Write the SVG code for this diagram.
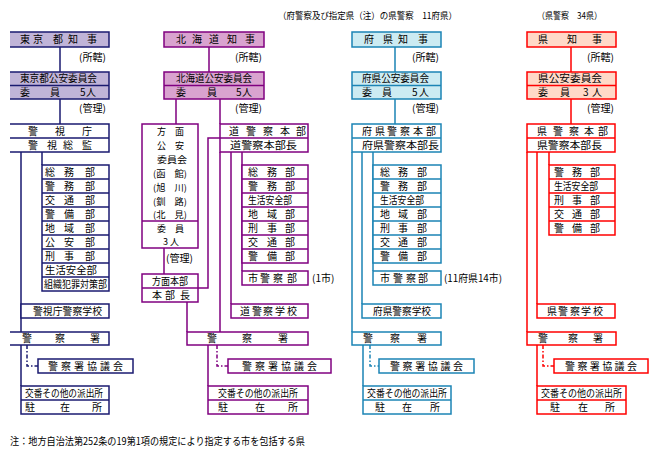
<svg xmlns="http://www.w3.org/2000/svg" width="659" height="456" viewBox="0 0 659 456">
<style>
text{font-family:"Noto Sans CJK JP","Noto Sans CJK SC",sans-serif;font-size:10px;fill:#000}
.s{font-size:9px}
.k,.h,.f,.r{stroke-width:1.5;fill:#fff}
.k{stroke:#1A1A70}.h{stroke:#800080}.f{stroke:#1B84B5}.r{stroke:#FF0000}
.kf{fill:#C0B4D8}.hf{fill:#D9A3CF}.ff{fill:#CCEBF2}.rf{fill:#FFD9C8}
.n{fill:none}
.d{stroke-dasharray:4 2 1.5 2}
</style>
<rect width="659" height="456" fill="#fff"/>
<text class="s" x="278" y="18.5" textLength="179" lengthAdjust="spacingAndGlyphs">（府警察及び指定県（注）の県警察　11府県）</text>
<text class="s" x="537" y="18.5" textLength="65" lengthAdjust="spacingAndGlyphs">（県警察　34県）</text>

<g id="connectors" fill="none">
<path class="k n" d="M60,47V72M60,99V124M21,152V332M42,152V165M21,345V386"/>
<path class="k n d" d="M27,345V366H38"/>
<path class="h n" d="M209,47V72M176,99V124M220,99V124M164,248V274M187,302V332M198,288H208V138H220M220,152V332M231,152V304M242,152V271M208,345V386"/>
<path class="h n d" d="M217,345V366H228"/>
<path class="f n" d="M395,47V72M395,99V124M352,152V332M362,152V304M373,152V271M363,345V386"/>
<path class="f n d" d="M370,345V366H379"/>
<path class="r n" d="M571,47V72M571,99V124M527,152V332M537,152V304M549,152V165M537,345V386"/>
<path class="r n d" d="M543,345V366H554"/>
</g>

<!-- Tokyo -->
<g id="tokyo-governor">
<rect class="kf" x="10" y="32" width="99" height="15"/>
<path class="k n" d="M10,32H109V47H10"/>
<text x="20 33 53 68 87" y="43">東京都知事</text>
</g>
<text x="79" y="60.5" textLength="27" lengthAdjust="spacingAndGlyphs">(所轄)</text>
<g id="tokyo-commission">
<rect class="kf" x="10" y="72" width="99" height="27"/>
<path class="k n" d="M10,72H109V99H10M10,85.5H109"/>
<text x="20" y="82.3" textLength="77" lengthAdjust="spacingAndGlyphs">東京都公安委員会</text>
<text x="20 50 80 86" y="95.8">委員5人</text>
</g>
<text x="79" y="111.5" textLength="27" lengthAdjust="spacingAndGlyphs">(管理)</text>
<g id="tokyo-mpd">
<path class="k n" d="M10,124H109V152H10M10,138H109"/>
<text x="28 55 82" y="134.5">警視庁</text>
<text x="28 47 63 82" y="148.5">警視総監</text>
</g>
<g id="tokyo-bureaus">
<rect class="k" x="42" y="165" width="67" height="126"/>
<path class="k n" d="M42,179H109M42,193H109M42,207H109M42,221H109M42,235H109M42,249H109M42,263H109M42,277H109"/>
<text x="45 64 85" y="175.5">総務部</text>
<text x="45 64 85" y="189.5">警務部</text>
<text x="45 64 85" y="203.5">交通部</text>
<text x="45 64 85" y="217.5">警備部</text>
<text x="45 64 85" y="231.5">地域部</text>
<text x="45 64 85" y="245.5">公安部</text>
<text x="45 64 85" y="259.5">刑事部</text>
<text x="45" y="273.5" textLength="52" lengthAdjust="spacingAndGlyphs">生活安全部</text>
<text x="44" y="287.5" textLength="63" lengthAdjust="spacingAndGlyphs">組織犯罪対策部</text>
</g>
<g id="tokyo-school">
<rect class="k" x="21" y="304" width="88" height="14"/>
<text x="33" y="314.5" textLength="69" lengthAdjust="spacingAndGlyphs">警視庁警察学校</text>
</g>
<g id="tokyo-station">
<path class="k n" d="M10,332H109V345H10"/>
<text x="22 55 90" y="342">警察署</text>
</g>
<g id="tokyo-council">
<rect class="k" x="38" y="359" width="95" height="14"/>
<text x="48 61 74 87 100 113" y="369.5">警察署協議会</text>
</g>
<g id="tokyo-koban">
<rect class="k" x="21" y="386" width="88" height="28"/>
<path class="k n" d="M21,400H109"/>
<text x="25" y="396.5" textLength="78" lengthAdjust="spacingAndGlyphs">交番その他の派出所</text>
<text x="25 60 92" y="410.5">駐在所</text>
</g>

<!-- Hokkaido -->
<g id="hokkaido-governor">
<rect class="h hf" x="164" y="32" width="100" height="15"/>
<text x="176 192 209 227 245" y="43">北海道知事</text>
</g>
<text x="235" y="60.5" textLength="27" lengthAdjust="spacingAndGlyphs">(所轄)</text>
<g id="hokkaido-commission">
<rect class="h hf" x="164" y="72" width="100" height="27"/>
<path class="h n" d="M164,85.5H264"/>
<text x="176" y="82.3" textLength="76" lengthAdjust="spacingAndGlyphs">北海道公安委員会</text>
<text x="176 207 236 242" y="95.8">委員5人</text>
</g>
<text x="235" y="111.5" textLength="27" lengthAdjust="spacingAndGlyphs">(管理)</text>
<g id="hokkaido-area-commission">
<rect class="h" x="142" y="124" width="56" height="124"/>
<path class="h n" d="M142,221H198"/>
<text class="s" x="157 175" y="135.2">方面</text>
<text class="s" x="157 175" y="149.2">公安</text>
<text class="s" x="157" y="163.2" textLength="30" lengthAdjust="spacingAndGlyphs">委員会</text>
<text class="s" x="153" y="177.2" textLength="34" lengthAdjust="spacingAndGlyphs">(函　館)</text>
<text class="s" x="153" y="191" textLength="34" lengthAdjust="spacingAndGlyphs">(旭　川)</text>
<text class="s" x="153" y="204.8" textLength="34" lengthAdjust="spacingAndGlyphs">(釧　路)</text>
<text class="s" x="153" y="218.4" textLength="34" lengthAdjust="spacingAndGlyphs">(北　見)</text>
<text class="s" x="157 175" y="232.2">委員</text>
<text class="s" x="163 170" y="245.2">3人</text>
</g>
<text x="166" y="261.5" textLength="27" lengthAdjust="spacingAndGlyphs">(管理)</text>
<g id="hokkaido-area-hq">
<rect class="h" x="142" y="274" width="56" height="28"/>
<path class="h n" d="M142,288H198"/>
<text x="152" y="284.5" textLength="36" lengthAdjust="spacingAndGlyphs">方面本部</text>
<text x="152 165 180" y="298.5">本部長</text>
</g>
<g id="hokkaido-hq">
<rect class="h" x="220" y="124" width="88" height="28"/>
<path class="h n" d="M220,138H308"/>
<text x="229 246 263 280 296" y="134.5">道警察本部</text>
<text x="230" y="148.5" textLength="67" lengthAdjust="spacingAndGlyphs">道警察本部長</text>
</g>
<g id="hokkaido-bureaus">
<rect class="h" x="242" y="165" width="66" height="98"/>
<path class="h n" d="M242,179H308M242,193H308M242,207H308M242,221H308M242,235H308M242,249H308"/>
<text x="248 267 285" y="175.5">総務部</text>
<text x="248 267 285" y="189.5">警務部</text>
<text x="248" y="203.5" textLength="44" lengthAdjust="spacingAndGlyphs">生活安全部</text>
<text x="248 267 285" y="217.5">地域部</text>
<text x="248 267 285" y="231.5">刑事部</text>
<text x="248 267 285" y="245.5">交通部</text>
<text x="248 267 285" y="259.5">警備部</text>
</g>
<g id="hokkaido-city">
<rect class="h" x="242" y="271" width="66" height="14"/>
<text x="248 260 273 287" y="281.5">市警察部</text>
</g>
<text x="312" y="281.5">(1市)</text>
<g id="hokkaido-school">
<rect class="h" x="231" y="304" width="77" height="14"/>
<text x="240 252 263 275 287" y="314.5">道警察学校</text>
</g>
<g id="hokkaido-station">
<rect class="h" x="187" y="332" width="121" height="13"/>
<text x="207 242 278" y="342">警察署</text>
</g>
<g id="hokkaido-council">
<rect class="h" x="228" y="359" width="103" height="14"/>
<text x="242 255 268 281 294 307" y="369.5">警察署協議会</text>
</g>
<g id="hokkaido-koban">
<rect class="h" x="208" y="386" width="100" height="28"/>
<path class="h n" d="M208,400H308"/>
<text x="218" y="396.5" textLength="80" lengthAdjust="spacingAndGlyphs">交番その他の派出所</text>
<text x="218 255 288" y="410.5">駐在所</text>
</g>

<!-- Prefectures (Fu) -->
<g id="fu-governor">
<rect class="f ff" x="352" y="32" width="89" height="15"/>
<text x="364 383 398 418" y="43">府県知事</text>
</g>
<text x="412" y="60.5" textLength="27" lengthAdjust="spacingAndGlyphs">(所轄)</text>
<g id="fu-commission">
<rect class="f ff" x="352" y="72" width="89" height="27"/>
<path class="f n" d="M352,85.5H441"/>
<text x="362" y="82.3" textLength="67" lengthAdjust="spacingAndGlyphs">府県公安委員会</text>
<text x="362 382 412 419" y="95.8">委員5人</text>
</g>
<text x="412" y="111.5" textLength="27" lengthAdjust="spacingAndGlyphs">(管理)</text>
<g id="fu-hq">
<rect class="f" x="352" y="124" width="89" height="28"/>
<path class="f n" d="M352,138H441"/>
<text x="362 375 387 400 413 426" y="134.5">府県警察本部</text>
<text x="362" y="148.5" textLength="77" lengthAdjust="spacingAndGlyphs">府県警察本部長</text>
</g>
<g id="fu-bureaus">
<rect class="f" x="373" y="165" width="68" height="98"/>
<path class="f n" d="M373,179H441M373,193H441M373,207H441M373,221H441M373,235H441M373,249H441"/>
<text x="380 398 417" y="175.5">総務部</text>
<text x="380 398 417" y="189.5">警務部</text>
<text x="380" y="203.5" textLength="44" lengthAdjust="spacingAndGlyphs">生活安全部</text>
<text x="380 398 417" y="217.5">地域部</text>
<text x="380 398 417" y="231.5">刑事部</text>
<text x="380 398 417" y="245.5">交通部</text>
<text x="380 398 417" y="259.5">警備部</text>
</g>
<g id="fu-city">
<rect class="f" x="373" y="271" width="68" height="14"/>
<text x="380 393 406 418" y="281.5">市警察部</text>
</g>
<text x="444" y="281.5" textLength="58" lengthAdjust="spacingAndGlyphs">(11府県14市)</text>
<g id="fu-school">
<rect class="f" x="362" y="304" width="79" height="14"/>
<text x="373" y="314.5" textLength="58" lengthAdjust="spacingAndGlyphs">府県警察学校</text>
</g>
<g id="fu-station">
<rect class="f" x="352" y="332" width="89" height="13"/>
<text x="363 390 417" y="342">警察署</text>
</g>
<g id="fu-council">
<rect class="f" x="379" y="359" width="95" height="14"/>
<text x="390 402.6 415.2 427.8 440.4 453" y="369.5">警察署協議会</text>
</g>
<g id="fu-koban">
<rect class="f" x="363" y="386" width="88" height="28"/>
<path class="f n" d="M363,400H451"/>
<text x="367" y="396.5" textLength="80" lengthAdjust="spacingAndGlyphs">交番その他の派出所</text>
<text x="375 402 430" y="410.5">駐在所</text>
</g>

<!-- Prefectures (Ken) -->
<g id="ken-governor">
<rect class="r rf" x="527" y="32" width="89" height="15"/>
<text x="538 567 592" y="43">県知事</text>
</g>
<text x="587" y="60.5" textLength="27" lengthAdjust="spacingAndGlyphs">(所轄)</text>
<g id="ken-commission">
<rect class="r rf" x="527" y="72" width="89" height="27"/>
<path class="r n" d="M527,85.5H616"/>
<text x="538" y="82.3" textLength="64" lengthAdjust="spacingAndGlyphs">県公安委員会</text>
<text x="538 560 583 592" y="95.8">委員3人</text>
</g>
<text x="587" y="111.5" textLength="27" lengthAdjust="spacingAndGlyphs">(管理)</text>
<g id="ken-hq">
<rect class="r" x="527" y="124" width="88" height="28"/>
<path class="r n" d="M527,138H615"/>
<text x="537 553 569 584 598" y="134.5">県警察本部</text>
<text x="537" y="148.5" textLength="65" lengthAdjust="spacingAndGlyphs">県警察本部長</text>
</g>
<g id="ken-bureaus">
<rect class="r" x="549" y="165" width="66" height="70"/>
<path class="r n" d="M549,179H615M549,193H615M549,207H615M549,221H615"/>
<text x="554 572 590" y="175.5">警務部</text>
<text x="554" y="189.5" textLength="44" lengthAdjust="spacingAndGlyphs">生活安全部</text>
<text x="554 572 590" y="203.5">刑事部</text>
<text x="554 572 590" y="217.5">交通部</text>
<text x="554 572 590" y="231.5">警備部</text>
</g>
<g id="ken-school">
<rect class="r" x="537" y="304" width="78" height="14"/>
<text x="547 558 570 581 593" y="314.5">県警察学校</text>
</g>
<g id="ken-station">
<rect class="r" x="527" y="332" width="89" height="13"/>
<text x="538 568 593" y="342">警察署</text>
</g>
<g id="ken-council">
<rect class="r" x="554" y="359" width="94" height="14"/>
<text x="565 577.4 589.8 602.2 614.6 627" y="369.5">警察署協議会</text>
</g>
<g id="ken-koban">
<rect class="r" x="537" y="386" width="89" height="28"/>
<path class="r n" d="M537,400H626"/>
<text x="541" y="396.5" textLength="81" lengthAdjust="spacingAndGlyphs">交番その他の派出所</text>
<text x="550 578 605" y="410.5">駐在所</text>
</g>

<text x="10" y="444.5" textLength="295" lengthAdjust="spacingAndGlyphs">注：地方自治法第252条の19第1項の規定により指定する市を包括する県</text>
</svg>
